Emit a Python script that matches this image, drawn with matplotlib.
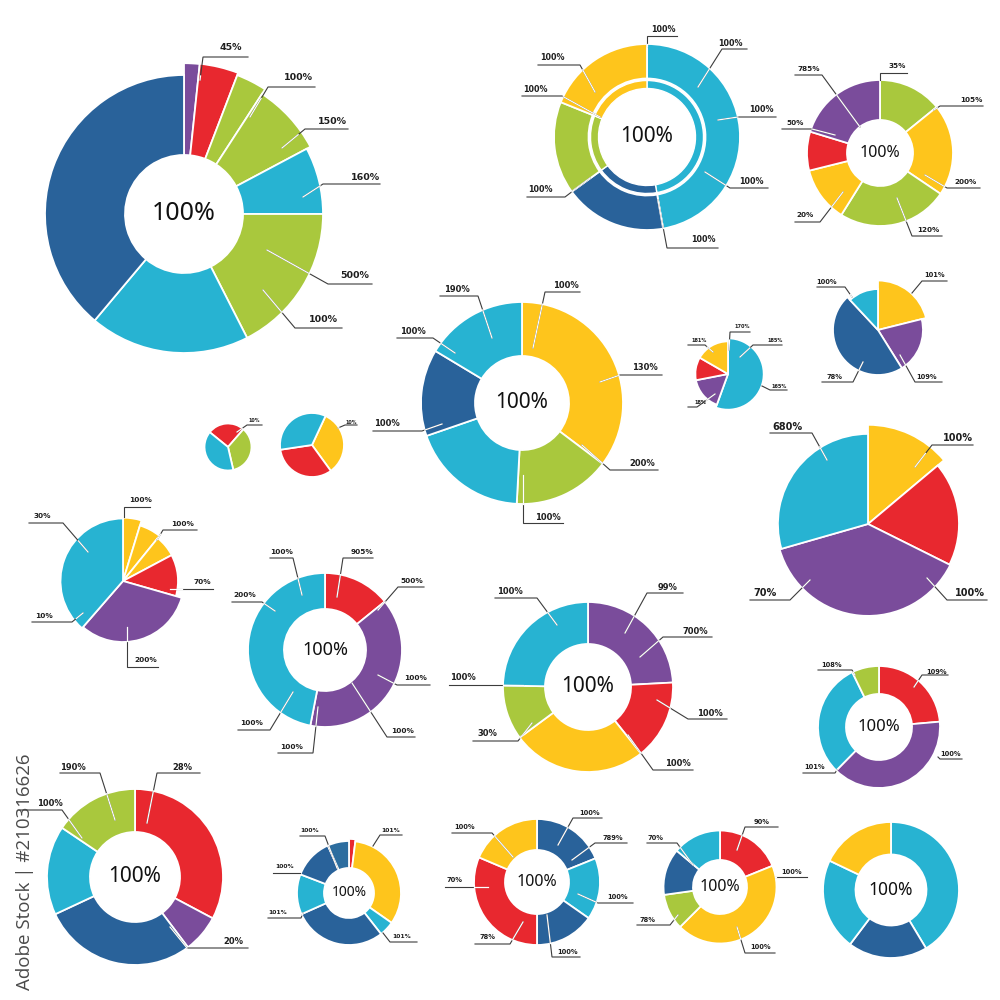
import math
import matplotlib
matplotlib.use("Agg")
import matplotlib.pyplot as plt

# ---------------- colours ----------------
DB = '#29629a'   # dark blue
DB2 = '#2c6d9f'
CY = '#27b3d2'   # cyan
GR = '#a9c83d'   # green
YE = '#fec51c'   # yellow
RE = '#e8282f'   # red
PU = '#7a4c9b'   # purple

# ---------------- data (slice sizes in degrees, clockwise from 12 o'clock) ----------------
a_values = [6, 15, 12, 29, 28, 63, 67, 140]
a_labels = ["45%", "100%", "150%", "160%", "500%", "100%"]

b_values = [170, 64, 58, 68]
b_inner_values = [170, 64, 58, 68]
b_labels = ["100%", "100%", "100%", "100%", "100%", "100%", "100%", "100%"]

c_values = [51, 73, 88, 44, 31, 73]
c_labels = ["35%", "105%", "200%", "120%", "20%", "50%", "785%"]

d_values = [127, 56, 68, 50, 59]
d_labels = ["100%", "130%", "200%", "100%", "100%", "100%", "190%"]

e_values = [200, 59, 41, 60]
e_labels = ["170%", "185%", "165%", "181%", "18%"]

f_values = [76, 72, 169, 43]
f_labels = ["100%", "101%", "109%", "78%"]

g_values = [50, 66.5, 137.5, 106]
g_labels = ["100%", "680%", "70%", "100%"]

h_values = [92, 126, 142]
h_labels = ["10%"]

i_values = [119, 117.5, 123.5]
i_labels = ["10%"]

j_values = [17, 22, 23, 44, 115, 139]
j_labels = ["100%", "100%", "70%", "200%", "10%", "30%"]

k_values = [51, 140, 169]
k_labels = ["905%", "500%", "100%", "100%", "100%", "100%", "200%", "100%"]

l_values = [87, 54.5, 92, 37.5, 89]
l_labels = ["99%", "700%", "100%", "100%", "30%", "100%", "100%"]

m_values = [85, 139.5, 109.5, 26]
m_labels = ["109%", "100%", "101%", "108%"]

n_values = [118, 25, 102, 59, 56]
n_labels = ["28%", "20%", "190%", "100%"]

o_values = [7, 118, 17, 104, 45, 45, 24]
o_labels = ["100%", "101%", "100%", "101%", "101%"]

p_values = [68, 57, 55, 113, 67]
p_labels = ["100%", "789%", "100%", "100%", "78%", "70%", "100%"]

q_values = [68, 157, 37, 48, 50]
q_labels = ["90%", "100%", "100%", "78%", "70%"]

r_values = [149, 68, 78.5, 64.5]

center_text = "100%"
watermark_text = "Adobe Stock | #210316626"

# ---------------- figure ----------------
fig = plt.figure(figsize=(10, 10), dpi=100)
ax = fig.add_axes([0, 0, 1, 1])


def Y(y):
    return 1000 - y


def draw_chart(values, colors, cx, cy, R, r_in=None, start=0, scales=None, lw=1.3):
    wp = dict(edgecolor='white', linewidth=lw)
    if r_in:
        wp['width'] = R - r_in
    wedges, _ = ax.pie(values, colors=colors, center=(cx, Y(cy)), radius=R,
                       startangle=90 - start, counterclock=False,
                       wedgeprops=wp, frame=True, normalize=True)
    if scales:
        for w, s in zip(wedges, scales):
            w.set_radius(R * s)
            if r_in:
                w.set_width(R * s - r_in)
    return wedges


def draw_label(text, txy, pts, cx, cy, R, fs):
    xs = [p[0] for p in pts]
    ys = [Y(p[1]) for p in pts]
    ax.plot(xs, ys, color='#3c3c3c', lw=0.8, zorder=5, solid_joinstyle='miter')
    x0, y0 = pts[0]
    x1, y1 = pts[1]
    fx, fy = x0 - cx, y0 - cy
    if math.hypot(fx, fy) < R:
        dx, dy = x1 - x0, y1 - y0
        a = dx * dx + dy * dy
        b = 2 * (fx * dx + fy * dy)
        c = fx * fx + fy * fy - R * R
        disc = b * b - 4 * a * c
        if a > 0 and disc >= 0:
            t = (-b + math.sqrt(disc)) / (2 * a)
            t = min(max(t, 0.0), 1.0)
            ax.plot([x0, x0 + t * dx], [Y(y0), Y(y0 + t * dy)],
                    color='white', lw=0.9, zorder=6)
    ax.text(txy[0], Y(txy[1]), text, fontsize=fs, fontweight='bold',
            color='#1e1e1e', ha='center', va='center', zorder=7,
            family='DejaVu Sans')


def draw_center(cx, cy, fs):
    ax.text(cx, Y(cy), center_text, fontsize=fs, color='#111111',
            ha='center', va='center', zorder=7, family='Noto Sans')


# ---------------- layout ----------------
charts = [
    dict(v=a_values, c=[PU, RE, GR, GR, CY, GR, CY, DB], xy=(184, 214), R=139, ri=59,
         sc=[1.085, 1.087, 1.07, 1.03, 1, 1, 1, 1], ct=18, lfs=6.8, labels=a_labels,
         lp=[((231, 47), [(200, 80), (203, 57), (248, 57)]),
             ((298, 77), [(250, 117), (268, 87), (315, 87)]),
             ((332, 121), [(282, 148), (305, 129), (348, 129)]),
             ((365, 177), [(303, 197), (323, 184), (380, 184)]),
             ((355, 276), [(267, 250), (328, 284), (372, 284)]),
             ((323, 320), [(263, 290), (295, 328), (342, 328)])]),
    dict(v=b_values, c=[CY, DB, GR, YE], xy=(647, 137), R=93, ri=58.5, ct=15, lfs=5.8,
         labels=b_labels,
         lp=[((663, 29), [(647, 46), (647, 36), (677, 36)]),
             ((730, 43), [(698, 87), (722, 49), (747, 49)]),
             ((761, 110), [(718, 120), (738, 117), (776, 117)]),
             ((751, 182), [(705, 172), (730, 188), (768, 188)]),
             ((703, 240), [(658, 200), (667, 248), (718, 248)]),
             ((540, 189), [(590, 178), (565, 197), (527, 197)]),
             ((535, 90), [(600, 117), (562, 96), (522, 96)]),
             ((552, 58), [(595, 92), (580, 65), (538, 65)])]),
    dict(v=c_values, c=[GR, YE, GR, YE, RE, PU], xy=(880, 153), R=73, ri=33, ct=11.5, lfs=5.2,
         labels=c_labels,
         lp=[((897, 66), [(880, 80), (880, 73), (907, 73)]),
             ((971, 100), [(934, 110), (940, 106), (983, 106)]),
             ((966, 182), [(925, 175), (947, 188), (980, 188)]),
             ((928, 230), [(897, 198), (912, 236), (942, 236)]),
             ((805, 215), [(843, 192), (820, 222), (795, 222)]),
             ((795, 123), [(835, 135), (812, 129), (782, 129)]),
             ((809, 69), [(860, 127), (822, 75), (795, 75)])]),
    dict(v=d_values, c=[YE, GR, CY, DB, CY], xy=(522, 403), R=101, ri=47, ct=15, lfs=6,
         labels=d_labels,
         lp=[((566, 285), [(533, 348), (545, 292), (580, 292)]),
             ((645, 367), [(600, 382), (620, 375), (662, 375)]),
             ((642, 463), [(582, 445), (610, 470), (658, 470)]),
             ((548, 517), [(523, 475), (523, 523), (563, 523)]),
             ((387, 423), [(442, 424), (422, 431), (373, 431)]),
             ((413, 332), [(455, 353), (433, 338), (397, 338)]),
             ((457, 290), [(492, 338), (478, 296), (440, 296)])]),
    dict(v=e_values, c=[CY, PU, RE, YE], xy=(728, 374), R=34, sc=[1.05, 0.96, 0.96, 0.96],
         lfs=3.6, labels=e_labels,
         lp=[((742, 327), [(729, 350), (730, 332), (750, 332)]),
             ((775, 340), [(740, 357), (753, 345), (782, 345)]),
             ((779, 386), [(762, 386), (770, 390), (787, 390)]),
             ((699, 341), [(713, 352), (705, 345), (688, 345)]),
             ((700, 402), [(715, 394), (697, 407), (688, 407)])]),
    dict(v=f_values, c=[YE, PU, DB, CY], xy=(878, 330), R=45, sc=[1.1, 1.0, 1.0, 0.91],
         lfs=4.8, labels=f_labels,
         lp=[((827, 282), [(852, 297), (845, 287), (817, 287)]),
             ((935, 275), [(912, 293), (922, 281), (947, 281)]),
             ((927, 377), [(900, 355), (915, 382), (942, 382)]),
             ((835, 377), [(863, 362), (853, 382), (822, 382)])]),
    dict(v=g_values, c=[YE, RE, PU, CY], xy=(868, 524), R=91, sc=[1.09, 1, 1.01, 0.99],
         lfs=7, labels=g_labels,
         lp=[((958, 438), [(915, 467), (932, 445), (973, 445)]),
             ((787, 427), [(827, 460), (812, 433), (770, 433)]),
             ((765, 593), [(810, 580), (790, 600), (750, 600)]),
             ((970, 593), [(927, 578), (947, 600), (987, 600)])]),
    dict(v=h_values, c=[RE, GR, CY], xy=(228, 447), R=23.5, start=309, lfs=3.4,
         labels=h_labels,
         lp=[((254, 421), [(237, 432), (247, 425), (262, 425)])]),
    dict(v=i_values, c=[YE, RE, CY], xy=(312, 445), R=32, start=25, lfs=3.4,
         labels=i_labels,
         lp=[((351, 422), [(338, 428), (345, 425), (357, 425)])]),
    dict(v=j_values, c=[YE, YE, YE, RE, PU, CY], xy=(123, 581), R=60,
         sc=[1.055, 0.967, 0.92, 0.917, 1.017, 1.042], lfs=5.3, labels=j_labels,
         lp=[((141, 500), [(124, 517), (124, 507), (150, 507)]),
             ((183, 524), [(157, 540), (163, 530), (197, 530)]),
             ((202, 582), [(170, 589), (213, 589)]),
             ((146, 660), [(127, 627), (127, 667), (158, 667)]),
             ((44, 616), [(83, 613), (72, 622), (32, 622)]),
             ((42, 516), [(88, 552), (63, 523), (29, 523)])]),
    dict(v=k_values, c=[RE, PU, CY], xy=(325, 650), R=77, ri=41, ct=13, lfs=5.3,
         labels=k_labels,
         lp=[((362, 552), [(337, 597), (343, 558), (373, 558)]),
             ((412, 581), [(378, 610), (398, 587), (424, 587)]),
             ((416, 678), [(378, 675), (397, 685), (430, 685)]),
             ((403, 731), [(352, 683), (387, 737), (415, 737)]),
             ((292, 747), [(318, 707), (313, 753), (278, 753)]),
             ((252, 723), [(293, 692), (270, 730), (238, 730)]),
             ((245, 595), [(275, 611), (262, 602), (232, 602)]),
             ((282, 552), [(302, 595), (293, 558), (270, 558)])]),
    dict(v=l_values, c=[PU, RE, YE, GR, CY], xy=(588, 687), R=85, ri=43, ct=15, lfs=6,
         labels=l_labels,
         lp=[((668, 587), [(625, 633), (647, 593), (683, 593)]),
             ((695, 631), [(640, 657), (663, 637), (712, 637)]),
             ((710, 713), [(657, 700), (688, 719), (727, 719)]),
             ((678, 763), [(628, 735), (653, 770), (693, 770)]),
             ((487, 733), [(532, 723), (518, 741), (473, 741)]),
             ((463, 677), [(523, 685), (449, 685)]),
             ((510, 592), [(557, 625), (537, 598), (495, 598)])]),
    dict(v=m_values, c=[RE, PU, CY, GR], xy=(879, 727), R=61, ri=33, ct=12, lfs=4.8,
         labels=m_labels,
         lp=[((937, 672), [(914, 687), (922, 675), (948, 675)]),
             ((951, 754), [(938, 757), (940, 759), (962, 759)]),
             ((815, 767), [(837, 770), (835, 773), (803, 773)]),
             ((832, 665), [(855, 675), (852, 670), (818, 670)])]),
    dict(v=n_values, c=[RE, PU, DB, CY, GR], xy=(135, 877), R=88, ri=45, ct=15, lfs=6,
         labels=n_labels,
         lp=[((182, 767), [(147, 823), (157, 773), (200, 773)]),
             ((233, 942), [(170, 927), (187, 948), (248, 948)]),
             ((73, 767), [(115, 820), (100, 773), (60, 773)]),
             ((50, 803), [(82, 838), (62, 810), (20, 810)])]),
    dict(v=o_values, c=[RE, YE, CY, DB, CY, DB, DB2], xy=(349, 893), R=52, ri=25, ct=10,
         sc=[1.04, 1, 1, 1, 1, 1, 1], lfs=4.3, labels=o_labels,
         lp=[((310, 831), [(337, 868), (325, 836), (300, 836)]),
             ((391, 831), [(373, 846), (380, 835), (402, 835)]),
             ((285, 867), [(300, 873), (273, 873)]),
             ((278, 913), [(303, 913), (301, 918), (268, 918)]),
             ((402, 937), [(383, 933), (390, 942), (417, 942)])]),
    dict(v=p_values, c=[DB, CY, DB, RE, YE], xy=(537, 882), R=63, ri=32, ct=11.5, lfs=4.8,
         labels=p_labels,
         lp=[((590, 813), [(558, 845), (573, 818), (602, 818)]),
             ((613, 838), [(572, 860), (595, 843), (627, 843)]),
             ((618, 897), [(578, 894), (598, 903), (633, 903)]),
             ((568, 952), [(547, 915), (552, 957), (580, 957)]),
             ((488, 937), [(523, 922), (510, 944), (475, 944)]),
             ((455, 880), [(488, 887), (445, 887)]),
             ((465, 827), [(513, 857), (492, 833), (452, 833)])]),
    dict(v=q_values, c=[RE, YE, GR, DB, CY], xy=(720, 887), R=56.5, ri=27, ct=11.5, lfs=4.8,
         labels=q_labels,
         lp=[((762, 822), [(737, 850), (745, 827), (778, 827)]),
             ((792, 872), [(775, 877), (807, 877)]),
             ((761, 947), [(737, 927), (745, 953), (775, 953)]),
             ((648, 920), [(678, 915), (670, 925), (637, 925)]),
             ((656, 838), [(693, 865), (677, 843), (647, 843)])]),
    dict(v=r_values, c=[CY, DB, CY, YE], xy=(891, 890), R=68, ri=35.5, ct=12.5,
         labels=[], lp=[]),
]

for ch in charts:
    cx, cy = ch['xy']
    draw_chart(ch['v'], ch['c'], cx, cy, ch['R'], ch.get('ri'), ch.get('start', 0),
               ch.get('sc'))
    if ch is charts[1]:
        # inner thin ring of chart B
        draw_chart(b_inner_values, [CY, DB, GR, YE], cx, cy, 56.5, 48.5, 0, None, lw=1.0)
    if ch.get('ct'):
        draw_center(cx, cy, ch['ct'])
    for txt, (txy, pts) in zip(ch['labels'], ch['lp']):
        draw_label(txt, txy, pts, cx, cy, ch['R'], ch['lfs'])

# vertical stock caption on the left
ax.text(25, Y(872), watermark_text, rotation=90, fontsize=13.5, color='#4a4a4a',
        ha='center', va='center', family='Open Sans', zorder=8)

ax.set_xlim(0, 1000)
ax.set_ylim(0, 1000)
ax.set_aspect('equal')
ax.axis('off')
fig.savefig('out.png', dpi=100, facecolor='white')
